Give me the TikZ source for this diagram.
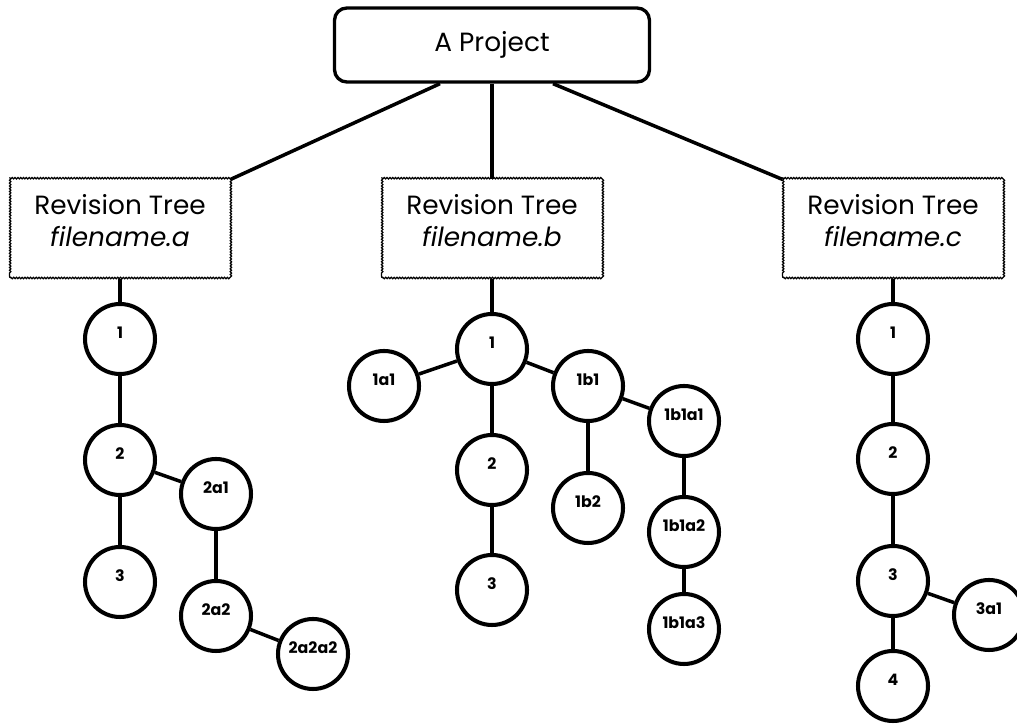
\documentclass[tikz,border=0pt]{standalone}
\usepackage{fontspec}
\setmainfont{Poppins}
\usetikzlibrary{positioning, decorations.pathmorphing}

\begin{document}
\begin{tikzpicture}[
    on grid,
    project/.style={draw, line width=1.9pt, rounded corners=7pt, minimum width=6.3cm, minimum height=1.48cm, font=\fontsize{15}{18}\selectfont},
    tree/.style={draw, line width=0.7pt, decorate, decoration={snake, segment length=1.6pt, amplitude=0.4pt}, minimum width=4.4cm, minimum height=1.96cm, align=center, text depth=10pt, font=\fontsize{15}{18}\selectfont},
    rev/.style={circle, draw, line width=2.3pt, minimum size=1.4cm, inner sep=0pt, text height=6pt, text depth=6.5pt, font=\fontsize{9}{10.8}\selectfont\bfseries},
    link/.style={line width=2pt}
]
\useasboundingbox (0,0) rectangle (20.34,-14.5);

\node[project] (project) at (9.84,-0.9) {A Project};

% one box per file
\node[tree, below left=3.68cm and 7.44cm of project] (treeA) {Revision Tree\\\textit{filename.a}};
\node[tree, below=3.68cm of project] (treeB) {Revision Tree\\\textit{filename.b}};
\node[tree, below right=3.68cm and 8.02cm of project] (treeC) {Revision Tree\\\textit{filename.c}};

\draw[link] ([xshift=-1.04cm]project.south) -- (treeA.north east);
\draw[link] (project) -- (treeB);
\draw[link] ([xshift=1.22cm]project.south) -- (treeC.north west);

% filename.a
\node[rev, below=2.2cm of treeA] (a1) {1};
\node[rev, below=2.42cm of a1] (a2) {2};
\node[rev, below=2.44cm of a2] (a3) {3};
\node[rev, below right=0.68cm and 1.92cm of a2] (a2a1) {2a1};
\node[rev, below=2.44cm of a2a1] (a2a2) {2a2};
\node[rev, below right=0.76cm and 1.94cm of a2a2] (a2a2a2) {2a2a2};

\draw[link] (treeA) -- (a1) -- (a2) -- (a3);
\draw[link] (a2) -- (a2a1) -- (a2a2) -- (a2a2a2);

% filename.b
\node[rev, below=2.4cm of treeB] (b1) {1};
\node[rev, below left=0.74cm and 2.16cm of b1] (b1a1) {1a1};
\node[rev, below right=0.74cm and 1.92cm of b1] (b1b1) {1b1};
\node[rev, below=2.42cm of b1] (b2) {2};
\node[rev, below=2.4cm of b2] (b3) {3};
\node[rev, below=2.44cm of b1b1] (b1b2) {1b2};
\node[rev, below right=0.7cm and 1.92cm of b1b1] (b1b1a1) {1b1a1};
\node[rev, below=2.22cm of b1b1a1] (b1b1a2) {1b1a2};
\node[rev, below=1.94cm of b1b1a2] (b1b1a3) {1b1a3};

\draw[link] (treeB) -- (b1) -- (b2) -- (b3);
\draw[link] (b1) -- (b1a1);
\draw[link] (b1) -- (b1b1) -- (b1b2);
\draw[link] (b1b1) -- (b1b1a1) -- (b1b1a2) -- (b1b1a3);

% filename.c
\node[rev, below=2.2cm of treeC] (c1) {1};
\node[rev, below=2.4cm of c1] (c2) {2};
\node[rev, below=2.44cm of c2] (c3) {3};
\node[rev, below=2.1cm of c3] (c4) {4};
\node[rev, below right=0.68cm and 1.92cm of c3] (c3a1) {3a1};

\draw[link] (treeC) -- (c1) -- (c2) -- (c3) -- (c4);
\draw[link] (c3) -- (c3a1);
\end{tikzpicture}
\end{document}
